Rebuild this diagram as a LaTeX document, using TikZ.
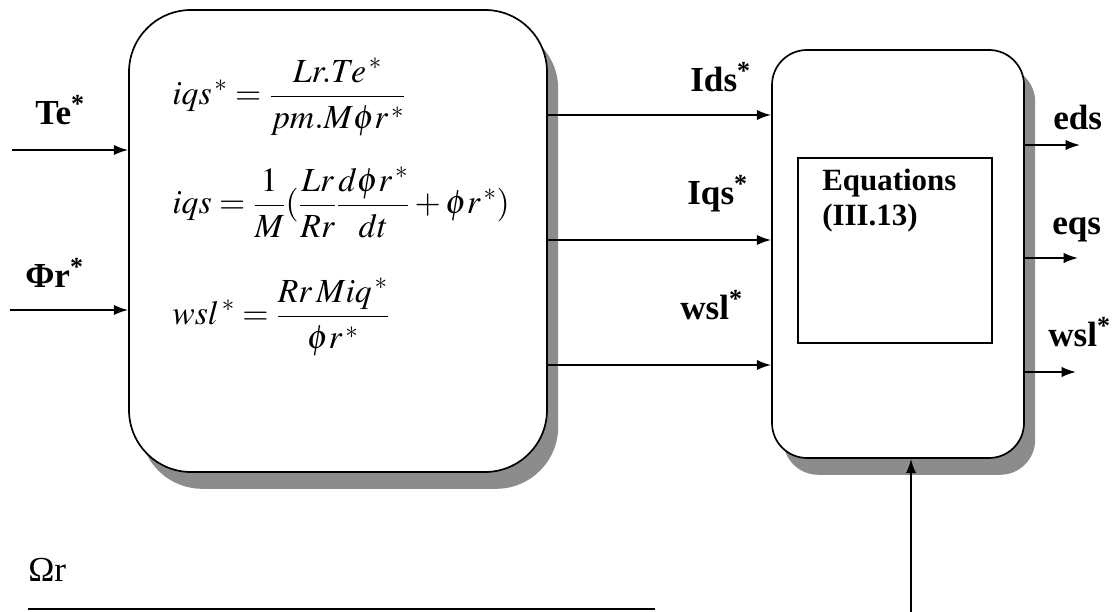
\documentclass[tikz,border=0pt]{standalone}
\usepackage{mathptmx}
\usepackage{fontspec}
\setmainfont{Liberation Serif}
\usetikzlibrary{positioning,arrows.meta,shadows}

\begin{document}
\begin{tikzpicture}[
  blk/.style={rounded corners=#1, draw=black, line width=1.2pt, fill=white,
    drop shadow={shadow xshift=0.28cm, shadow yshift=-0.42cm, fill=black!45, opacity=1}},
  inner/.style={draw=black, line width=1pt, minimum width=4.85cm, minimum height=4.625cm},
  lbl/.style={font=\fontsize{25}{29}\selectfont\bfseries, inner sep=0pt, anchor=base west},
  eqn/.style={font=\fontsize{24}{28}\selectfont, inner sep=0pt, anchor=base west},
  arr/.style={-{Latex[length=3.6mm, width=2.6mm]}, line width=1.3pt}
]
\useasboundingbox (0,0) rectangle (27.825,15.3);

%% ---------- Reference block (left) ----------
\node[blk=1.55cm, minimum width=10.45cm, minimum height=11.55cm] (refcalc) at (8.45,9.275) {};

\node[eqn] (eqiqsref) at (4.3,12.675) {$\displaystyle iqs^{\,*} = \frac{Lr.Te^{\,*}}{pm.M\phi r^{\,*}}$};
\node[eqn] (eqiqs)    at (4.3,9.95)   {$\displaystyle iqs = \frac{1}{M}(\frac{Lr}{Rr}\frac{d\phi r^{\,*}}{dt} + \phi r^{\,*})$};
\node[eqn] (eqwsl)    at (4.3,7.175)  {$\displaystyle wsl^{\,*} = \frac{Rr\,Miq^{\,*}}{\phi r^{\,*}}$};

%% ---------- Decoupling block (right) ----------
\node[blk=0.875cm, minimum width=6.3cm, minimum height=10.2cm] (decoup) at (22.45,8.95) {};
\node[inner] (eqbox) at (22.375,9.0375) {};
\node[font=\fontsize{22}{25}\selectfont\bfseries, align=left, inner sep=0pt, anchor=north west] (eqtxt) at (20.55,11.075) {Equations\\(III.13)};

%% ---------- Inputs ----------
\node[lbl] (te)  at (0.875,12.175) {Te\textsuperscript{*}};
\node[lbl] (phr) at (0.625,8.1)    {Φr\textsuperscript{*}};

\coordinate (tein) at (0.3,11.55);
\coordinate (phin) at (0.25,7.55);
\draw[arr] (tein) -- (tein -| refcalc.west);
\draw[arr] (phin) -- (phin -| refcalc.west);

%% ---------- Links between the blocks ----------
\node[lbl] (ids) at (17.25,13.0)  {Ids\textsuperscript{*}};
\node[lbl] (iqs) at (17.175,10.175) {Iqs\textsuperscript{*}};
\node[lbl] (wsl) at (17.0,7.3)    {wsl\textsuperscript{*}};

\coordinate (idsl) at (0,12.425);
\coordinate (iqsl) at (0,9.3);
\coordinate (wsll) at (0,6.175);
\draw[arr] (refcalc.east |- idsl) -- (decoup.west |- idsl);
\draw[arr] (refcalc.east |- iqsl) -- (decoup.west |- iqsl);
\draw[arr] (refcalc.east |- wsll) -- (decoup.west |- wsll);

%% ---------- Outputs ----------
\node[lbl] (eds)  at (26.325,12.05) {eds};
\node[lbl] (eqs)  at (26.3,9.425)   {eqs};
\node[lbl] (wslo) at (26.2,6.625)   {wsl\textsuperscript{*}};

\coordinate (edsend) at (27.0,11.675);
\coordinate (eqsend) at (26.95,8.85);
\coordinate (wslend) at (26.9,6.0);
\draw[arr] (decoup.east |- edsend) -- (edsend);
\draw[arr] (decoup.east |- eqsend) -- (eqsend);
\draw[arr] (decoup.east |- wslend) -- (wslend);

%% ---------- Speed ----------
\node[lbl, font=\fontsize{25}{29}\selectfont] (omr) at (0.7,0.75) {Ωr};
\coordinate (omrl) at (0.7,0.075);
\coordinate (omrr) at (16.375,0.075);
\draw[line width=1.3pt] (omrl) -- (omrr);

\coordinate (omrin) at (22.775,0);
\draw[arr] (omrin) -- (omrin |- decoup.south);

\end{tikzpicture}
\end{document}
